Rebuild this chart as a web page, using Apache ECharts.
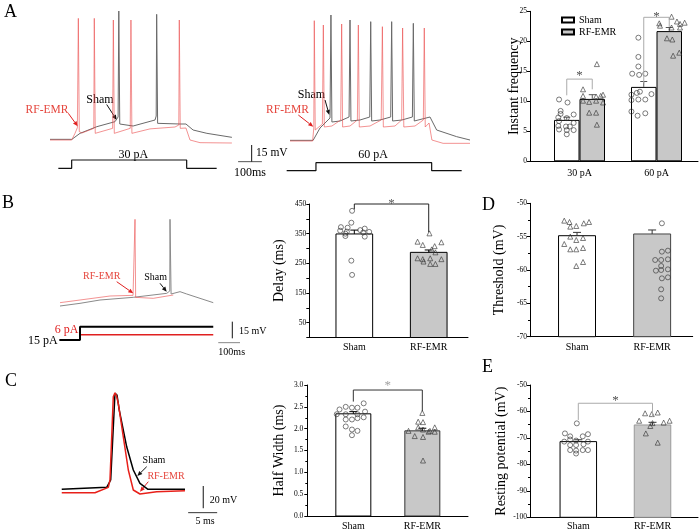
<!DOCTYPE html>
<html><head><meta charset="utf-8">
<script src="https://cdn.jsdelivr.net/npm/echarts@6/dist/echarts.min.js"></script>
<style>html,body{margin:0;padding:0;background:#fff}#c{width:700px;height:532px}</style>
</head><body><div id="c"></div>
<script>
// ================= DATA =================
// Panel A traces: [time (ms), membrane potential (mV)]
const traceA30Sham = [[0,-69.4],[92,-69.4],[126,-64],[197,-58],[273,-53.5],[286,-49.3],[289,46.1],[293,-55.6],[349,-57.4],[441,-52],[446,-48.4],[448,43.1],[452,-55],[546,-55.6],[571,-55.6],[601,-61],[659,-64],[764,-67.6]];
const traceA30Rf = [[0,-70],[91,-70],[105,-64],[115,-58.9],[119,39.5],[123,-62.5],[134,-63.7],[184,-59.5],[186,39.5],[190,-64],[263,-59.5],[266,38],[270,-64],[337,-59.5],[340,38],[344,-64],[420,-60],[525,-58.3],[541,-56.5],[543,38],[547,-59.5],[571,-59.2],[588,-70],[630,-72.4],[764,-72.7]];
const traceA60Sham = [[252,-70.3],[349,-70.3],[378,-59.2],[420,-50.2],[424,42.5],[428,-53.8],[462,-52.9],[500,-49.3],[504,38],[508,-52.9],[546,-52],[587,-49.3],[591,36.5],[595,-52.9],[630,-52],[675,-49.3],[679,36.5],[683,-52.9],[722,-52],[766,-49.3],[770,35],[774,-52.9],[840,-49.3],[868,-61],[952,-67],[1008,-70]];
const traceA60Rf = [[252,-70.9],[347,-70.9],[352,-59.2],[354,37.4],[358,-61],[388,-55.6],[392,33.5],[396,-58.3],[428,-57.4],[465,-52],[469,34.4],[473,-58.3],[504,-57.4],[535,-52],[539,33.5],[543,-58.3],[588,-57.4],[635,-52],[640,32],[644,-58.3],[693,-57.4],[721,-52],[725,30.8],[730,-58.3],[777,-57.4],[812,-52],[816,30.8],[820,-58.3],[836,-54.7],[848,-70],[895,-73],[1008,-73]];
// stimulus steps: [time (ms), current (pA)]
const stimA30 = [[35,0],[91,0],[91,30],[574,30],[574,0],[700,0]];
const stimA60 = [[238,0],[361,0],[361,60],[847,60],[847,0],[973,0]];
const scaleA_h = [[34,-89.5],[134,-89.5]];   // 100 ms
const scaleA_v = [[91,-89.5],[91,-74.5]];    // 15 mV

// Panel B traces
const traceBSham = [[23,-72.7],[115,-70.3],[207,-67.3],[360,-64.9],[514,-61.3],[528,-59.2],[529,5.3],[534,-61.9],[575,-59.8],[606,-61.9],[667,-65.8],[728,-69.7]];
const traceBRf = [[23,-69.7],[115,-67.3],[253,-63.7],[359,-63.1],[367,-61.9],[368,5.3],[371,-64.9],[452,-65.8],[544,-62.8]];
const stimB15 = [[20,0],[115,0],[115,15],[728,15]];
const stimB6 = [[115,0],[115,6],[728,6]];
const scaleB_h = [[751,-105.7],[851,-105.7]];  // 100 ms
const scaleB_v = [[815.6,-101.8],[815.6,-86.8]]; // 15 mV

// Panel C traces
const traceCSham = [[0.3,-60],[8.05,-58.2],[8.74,-51.6],[9.48,26.4],[9.6,26.9],[9.83,24.8],[10.22,11.3],[11.5,-21.7],[12.64,-42.6],[13.79,-54.6],[15.17,-60],[21.55,-60]];
const traceCRf = [[0.3,-63.1],[6.03,-63.1],[8.33,-58.2],[8.62,-51.6],[9.19,23.3],[9.48,26.9],[9.71,24.8],[10.05,17.4],[10.91,-12.6],[11.78,-42.6],[12.64,-60.6],[13.79,-64.2],[16.67,-62.2],[21.55,-61.3]];
const scaleC_h = [[22.1,-81],[27.1,-81]];   // 5 ms
const scaleC_v = [[24.7,-77],[24.7,-57]];   // 20 mV

// Bar panels
const groups = ['Sham','RF-EMR'];
const freqCats = ['30 pA','60 pA'];
const freqSham = [6.9, 12.4], freqShamSem = [0.45, 0.9];
const freqRf = [10.4, 21.7], freqRfSem = [0.7, 0.6];
const freqSham30 = [10.3,9.8,8.4,7.9,7.8,7.3,7.2,6.7,6.4,5.9,5.8,5.8,5.3,5.2,5.2,4.5];
const freqSham30Jit = [-.10,.01,-.08,-.08,.09,-.11,0,-.10,.09,-.11,-.01,.04,-.10,0,.09,0];
const freqRf30 = [16.2,12.0,10.9,10.8,10.9,11.1,10.1,9.9,10.1,9.8,8.1,8.1,6.1];
const freqRf30Jit = [.06,-.12,-.12,.05,.11,.14,-.12,-.04,.05,.14,-.04,.05,.06];
const freqSham60 = [20.6,17.4,15.8,14.6,14.4,14.6,11.1,11.4,11.6,11.2,10.2,10.3,10.3,8.3,7.6,8.0];
const freqSham60Jit = [-.07,-.07,-.07,-.15,-.06,.02,-.16,-.09,-.05,.10,-.16,-.07,.02,-.16,-.08,.02];
const freqRf60 = [24.1,23.3,23.1,22.9,23.0,22.6,22.3,22.3,20.5,20.3,17.6,18.1];
const freqRf60Jit = [.03,.10,.20,.14,-.13,-.12,.03,.14,-.03,.04,.05,.13];
const sigA = [[11.0,13.7,12.0,14.8],[13.0,24.0,22.4,24.7]]; // [left leg end, bracket, right leg end, star]

const delayMean = [349, 287], delaySem = [13, 8];
const delaySham = [427,387,372,370,367,362,360,357,356,354,350,342,340,259,211];
const delayShamJit = [-.03,-.04,-.18,-.09,.14,.08,-.19,-.10,.20,.12,-.12,-.12,.14,-.04,-.03];
const delayRf = [351,323,321,312,308,297,287,267,264,267,264,256,248,248];
const delayRfJit = [.01,-.15,.17,-.08,.08,.04,.09,-.15,-.08,.02,.17,-.07,.02,.09];
const sigB = [432, 450, 355, 461];

const hwMean = [2.34, 1.95], hwSem = [0.05, 0.06];
const hwSham = [2.58,2.50,2.48,2.48,2.44,2.39,2.33,2.33,2.33,2.26,2.24,2.21,2.21,2.05,1.98,1.95,1.85];
const hwShamJit = [.15,-.11,-.02,.06,-.20,.17,-.24,-.11,.06,.15,.06,-.11,-.02,-.11,-.02,.06,-.02];
const hwRf = [2.36,2.16,2.15,2.03,1.98,1.95,1.95,2.03,1.93,1.83,1.81,1.93,1.27];
const hwRfJit = [0,-.06,.01,-.06,.01,-.20,.11,.18,.18,-.11,.01,.09,.01];
const sigC = [2.62, 2.885, 2.40, 3.05];

const thrMean = [-54.86, -54.6], thrSem = [0.5, 0.6];
const thrSham = [-52.6,-52.8,-52.8,-53.0,-53.5,-53.4,-55.0,-55.2,-55.5,-56.1,-56.9,-56.9,-56.7,-58.8,-59.4];
const thrShamJit = [-.17,-.10,.16,.09,-.09,-.01,-.09,.08,-.01,-.17,-.09,-.01,.08,.08,-.01];
const thrRf = [-53.0,-57.25,-57.1,-58.5,-58.5,-58.4,-59.4,-60.1,-60.0,-59.9,-61.25,-61.1,-62.9,-64.25];
const thrRfJit = [.13,.13,.21,.04,.12,.21,.12,.05,.12,.21,.13,.21,.12,.12];

const rpMean = [-71.4, -65.1], rpSem = [0.7, 1.0];
const rpSham = [-64.5,-68.3,-68.6,-69.4,-69.4,-71.4,-70.6,-71.0,-71.4,-72.7,-72.7,-72.4,-74.6,-74.8,-74.6,-74.6,-75.9];
const rpShamJit = [-.02,-.18,.13,-.11,.06,-.19,-.11,-.03,.13,-.11,-.03,.07,-.11,-.03,.06,.13,-.03];
const rpRf = [-60.7,-61.0,-60.4,-63.5,-63.5,-64.2,-64.4,-65.5,-68.3,-71.8];
const rpRfJit = [-.10,-.01,.07,-.18,.23,.15,0,-.03,-.09,.07];
const sigE = [-63.2, -56.9, -62.0, -54.9];

// ================= BUILD =================
const SERIF = 'Liberation Serif';
const RED = '#e5453c';
const grids = [], xAxes = [], yAxes = [], series = [], graphics = [];
function addGrid(g, x, y) {
  grids.push(Object.assign({containLabel:false}, g));
  const i = grids.length - 1;
  xAxes.push(Object.assign({gridIndex:i}, x));
  yAxes.push(Object.assign({gridIndex:i}, y));
  return i;
}
const hid = (min, max) => ({type:'value', min, max, show:false});
function line(gi, data, color, width, z) {
  series.push({type:'line', xAxisIndex:gi, yAxisIndex:gi, data, showSymbol:false, symbol:'none',
    lineStyle:{color, width}, silent:true, clip:false, z:z||2, animation:false});
}
// ---- traces ----
const gA1 = addGrid({left:50, top:5, width:185, height:170}, hid(0,777), hid(-101.5,51.5));
const gA2 = addGrid({left:230, top:5, width:245, height:170}, hid(0,1029), hid(-101.5,51.5));
const gA1s = addGrid({left:50, top:160, width:185, height:8.3}, hid(0,777), hid(0,30));
const gA2s = addGrid({left:230, top:162.7, width:245, height:8}, hid(0,1029), hid(0,60));
const TRACE_RED = 'rgba(235,75,75,0.6)';
line(gA1, traceA30Sham, '#6a6a6a', 1); line(gA1, traceA30Rf, TRACE_RED, 1);
line(gA2, traceA60Sham, '#6a6a6a', 1); line(gA2, traceA60Rf, TRACE_RED, 1);
line(gA1s, stimA30, '#111', 1.2); line(gA2s, stimA60, '#111', 1.2);
line(gA2, scaleA_h, '#555', 1); line(gA2, scaleA_v, '#111', 1);

const gB = addGrid({left:55, top:203, width:190, height:155}, hid(0,874), hid(-119.5,20));
const gBs = addGrid({left:55, top:326.7, width:190, height:13.3}, hid(0,874), hid(0,15));
line(gB, traceBSham, '#8a8a8a', 1); line(gB, traceBRf, TRACE_RED, 1);
line(gBs, stimB6, '#e02020', 1.5); line(gBs, stimB15, '#000', 2);
line(gB, scaleB_h, '#888', 1); line(gB, scaleB_v, '#111', 1);

const gC = addGrid({left:60, top:380, width:160, height:140}, hid(0,27.59), hid(-87.6,38.4));
line(gC, traceCSham, '#000', 1.5); line(gC, traceCRf, '#e8201a', 1.5, 3);
line(gC, scaleC_h, '#333', 1); line(gC, scaleC_v, '#111', 1);

// ---- bar panels ----
function xCat(min, max, labels, margin) {
  return {type:'value', min, max,
    axisLine:{show:true, onZero:false, lineStyle:{color:'#000', width:1}},
    axisTick:{show:false}, splitLine:{show:false},
    axisLabel:{customValues:[0,1], formatter:(v)=>labels[Math.round(v)] || '', color:'#000',
      fontFamily:SERIF, fontSize:10, margin:margin}};
}
function yVal(min, max, interval, name, nameGap, extra) {
  return Object.assign({type:'value', min, max, interval, name, nameLocation:'middle', nameGap,
    nameMoveOverlap:false,
    nameTextStyle:{fontFamily:SERIF, fontSize:14, color:'#000'},
    axisLine:{show:true, onZero:false, lineStyle:{color:'#000', width:1}},
    axisTick:{show:true, length:3, lineStyle:{color:'#000'}},
    splitLine:{show:false},
    axisLabel:{color:'#000', fontFamily:SERIF, fontSize:7.5, margin:3}}, extra || {});
}
function customBars(gi, vals, widthU, yMin, fills, strokes) {
  series.push({type:'custom', xAxisIndex:gi, yAxisIndex:gi, data: vals.map((v,i)=>[i,v]), z:1,
    silent:true, animation:false, clip:false,
    renderItem:(p, api) => {
      const x = api.value(0), y = api.value(1);
      const top = api.coord([x, y]), bot = api.coord([x, yMin]);
      const w = api.size([widthU, 0])[0];
      return {type:'rect', shape:{x:top[0]-w/2, y:top[1], width:w, height:bot[1]-top[1]},
        style:{fill:fills[p.dataIndex], stroke:strokes[p.dataIndex], lineWidth:1}};
    }});
}
function errBars(gi, xs, means, sems, capPx, color) {
  series.push({type:'custom', xAxisIndex:gi, yAxisIndex:gi, data: means.map((m,i)=>[xs[i], m, sems[i]]), z:3,
    silent:true, animation:false, clip:false,
    renderItem:(p, api) => {
      const x = api.value(0), m = api.value(1), s = api.value(2);
      const a = api.coord([x, m]), b = api.coord([x, m + s]);
      return {type:'group', children:[
        {type:'line', shape:{x1:a[0], y1:a[1], x2:b[0], y2:b[1]}, style:{stroke:color, lineWidth:1}},
        {type:'line', shape:{x1:b[0]-capPx/2, y1:b[1], x2:b[0]+capPx/2, y2:b[1]}, style:{stroke:color, lineWidth:1}}]};
    }});
}
function dots(gi, vals, jit, xc, symbol, size) {
  series.push({type:'scatter', xAxisIndex:gi, yAxisIndex:gi, data: vals.map((v,i)=>[xc + jit[i], v]),
    symbol, symbolSize:size, z:4, silent:true, animation:false, clip:false,
    itemStyle:{color:'rgba(255,255,255,0)', borderColor:'#333', borderWidth:0.8}});
}
function bracket(gi, xl, xr, sig, color, starColor) {
  series.push({type:'line', xAxisIndex:gi, yAxisIndex:gi, data:[[xl,sig[0]],[xl,sig[1]],[xr,sig[1]],[xr,sig[2]]],
    showSymbol:false, symbol:'none', lineStyle:{color, width:1}, clip:false, silent:true, z:5, animation:false});
  series.push({type:'scatter', xAxisIndex:gi, yAxisIndex:gi, data:[[(xl+xr)/2, sig[3]]], symbolSize:1,
    itemStyle:{color:'rgba(0,0,0,0)'}, clip:false, silent:true, z:6, animation:false,
    label:{show:true, position:'inside', formatter:'*', fontFamily:SERIF, fontSize:13, color:starColor, offset:[0,3]}});
}

// A bar chart
const gAb = addGrid({left:530, top:11.3, width:168, height:150},
  xCat(-0.643, 1.539, freqCats, 7), yVal(0, 25, 5, 'Instant frequency', 9));
const offA = 12.75 / 77;
series.push({type:'bar', name:'Sham', xAxisIndex:gAb, yAxisIndex:gAb, data: freqSham.map((v,i)=>[i,v]),
  barWidth:25.5, barGap:'0%', itemStyle:{color:'#fff', borderColor:'#000', borderWidth:1}, z:1, silent:true, animation:false});
series.push({type:'bar', name:'RF-EMR', xAxisIndex:gAb, yAxisIndex:gAb, data: freqRf.map((v,i)=>[i,v]),
  barWidth:25.5, barGap:'0%', itemStyle:{color:'#c8c8c8', borderColor:'#000', borderWidth:1}, z:1, silent:true, animation:false});
errBars(gAb, [-offA, 1-offA], freqSham, freqShamSem, 7, '#555');
errBars(gAb, [offA, 1+offA], freqRf, freqRfSem, 7, '#555');
dots(gAb, freqSham30, freqSham30Jit, -offA, 'circle', 5);
dots(gAb, freqRf30, freqRf30Jit, offA, 'triangle', 5);
dots(gAb, freqSham60, freqSham60Jit, 1-offA, 'circle', 5);
dots(gAb, freqRf60, freqRf60Jit, 1+offA, 'triangle', 5);
bracket(gAb, -offA, offA, sigA[0], '#aaa', '#222');
bracket(gAb, 1-offA, 1+offA, sigA[1], '#aaa', '#222');

// B bar chart
const gBb = addGrid({left:309.3, top:204, width:158.7, height:133.5},
  xCat(-0.605, 1.528, groups, 5),
  yVal(0, 450, 50, 'Delay (ms)', 23, {axisLabel:{color:'#000', fontFamily:SERIF, fontSize:7.5, margin:3,
    formatter:(v)=> (v % 100 === 50 ? String(v) : '')}}));
customBars(gBb, delayMean, 0.493, 0, ['#fff','#c8c8c8'], ['#000','#000']);
errBars(gBb, [0,1], delayMean, delaySem, 8, '#000');
dots(gBb, delaySham, delayShamJit, 0, 'circle', 5);
dots(gBb, delayRf, delayRfJit, 1, 'triangle', 5);
bracket(gBb, 0, 1, sigB, '#222', '#333');

// C bar chart
const gCb = addGrid({left:307.3, top:385, width:160.7, height:131},
  xCat(-0.667, 1.662, groups, 5),
  yVal(0, 3, 0.5, 'Half Width (ms)', 21, {minorTick:{show:true, splitNumber:2, length:2, lineStyle:{color:'#000'}},
    axisLabel:{color:'#000', fontFamily:SERIF, fontSize:7.5, margin:4, formatter:(v)=>v.toFixed(1)}}));
customBars(gCb, hwMean, 0.507, 0, ['#fff','#c8c8c8'], ['#000','#333']);
errBars(gCb, [0,1], hwMean, hwSem, 8, '#000');
dots(gCb, hwSham, hwShamJit, 0, 'circle', 5);
dots(gCb, hwRf, hwRfJit, 1, 'triangle', 5);
bracket(gCb, 0, 1, sigC, '#333', '#888');

// D bar chart
const gDb = addGrid({left:530, top:203.3, width:162.7, height:133.4},
  xCat(-0.626, 1.54, groups, 6),
  yVal(-70, -50, 5, 'Threshold (mV)', 24, {minorTick:{show:true, splitNumber:2, length:2, lineStyle:{color:'#000'}}}));
customBars(gDb, thrMean, 0.492, -70, ['#fff','#c8c8c8'], ['#000','#444']);
errBars(gDb, [0,1], thrMean, thrSem, 8, '#333');
dots(gDb, thrSham, thrShamJit, 0, 'triangle', 5);
dots(gDb, thrRf, thrRfJit, 1, 'circle', 5);

// E bar chart
const gEb = addGrid({left:530, top:385, width:168, height:132.3},
  xCat(-0.651, 1.613, groups, 4),
  yVal(-100, -50, 10, 'Resting potential (mV)', 22, {minorTick:{show:true, splitNumber:2, length:2, lineStyle:{color:'#000'}}}));
customBars(gEb, rpMean, 0.492, -100, ['#fff','#c8c8c8'], ['#000','#999']);
errBars(gEb, [0,1], rpMean, rpSem, 8, '#333');
dots(gEb, rpSham, rpShamJit, 0, 'circle', 5);
dots(gEb, rpRf, rpRfJit, 1, 'triangle', 5);
bracket(gEb, 0, 1, sigE, '#aaa', '#222');

// ---- annotations ----
function txt(text, x, y, size, color, align) {
  graphics.push({type:'text', silent:true, x, y, style:{text, font:size + 'px "' + SERIF + '"', fill:color || '#000',
    align: align || 'center', verticalAlign:'middle'}});
}
function arrow(x1, y1, x2, y2, color) {
  const ang = Math.atan2(y2 - y1, x2 - x1), L = 5, W = 2.2;
  const bx = x2 - L * Math.cos(ang), by = y2 - L * Math.sin(ang);
  const px = -Math.sin(ang) * W, py = Math.cos(ang) * W;
  graphics.push({type:'line', silent:true, shape:{x1, y1, x2:bx, y2:by}, style:{stroke:color, lineWidth:1}});
  graphics.push({type:'polygon', silent:true, shape:{points:[[x2,y2],[bx+px,by+py],[bx-px,by-py]]}, style:{fill:color}});
}
txt('A', 4, 12, 18, '#000', 'left'); txt('B', 2, 203, 18, '#000', 'left'); txt('C', 5, 381, 18, '#000', 'left');
txt('D', 482, 205, 18, '#000', 'left'); txt('E', 482, 367, 18, '#000', 'left');
txt('Sham', 100, 99.5, 12); txt('RF-EMR', 47, 109.5, 11.5, RED);
arrow(106.7, 104.5, 116.7, 120, '#111'); arrow(68.3, 113.3, 77.7, 126.3, '#e02020');
txt('Sham', 311.5, 94.5, 12); txt('RF-EMR', 287.5, 109.5, 11.5, RED);
arrow(325, 100, 329.3, 115, '#111'); arrow(298.3, 115, 313.3, 126.7, '#e02020');
txt('30 pA', 133.3, 155, 12); txt('60 pA', 373, 155, 12);
txt('15 mV', 256, 153, 11.5, '#000', 'left'); txt('100ms', 250, 173, 12);
txt('RF-EMR', 101.7, 276, 10, RED); txt('Sham', 155.7, 277.3, 10);
arrow(116.7, 281.7, 133.3, 293.3, '#e02020'); arrow(160, 283.3, 166.7, 291.7, '#111');
txt('6 pA', 66.7, 330, 12, '#e02020'); txt('15 pA', 42.8, 341, 12);
txt('15 mV', 239, 331.7, 10, '#000', 'left'); txt('100ms', 231.7, 352.3, 10);
txt('Sham', 154, 460, 10); txt('RF-EMR', 166, 476.7, 10, RED);
arrow(146.7, 466.7, 137.3, 476, '#111'); arrow(148.3, 481.7, 140, 491.7, '#e02020');
txt('20 mV', 209.7, 500, 10, '#000', 'left'); txt('5 ms', 205, 521.7, 10);

const chart = echarts.init(document.getElementById('c'), null, {renderer:'canvas'});
chart.setOption({
  backgroundColor:'#fff', animation:false,
  grid: grids, xAxis: xAxes, yAxis: yAxes, series,
  legend: {show:true, data:['Sham','RF-EMR'], orient:'vertical', left:556, top:10, itemWidth:12, itemHeight:5,
    itemGap:2, icon:'rect', selectedMode:false, textStyle:{fontFamily:SERIF, fontSize:10, color:'#000'}},
  graphic: graphics
});
</script></body></html>
